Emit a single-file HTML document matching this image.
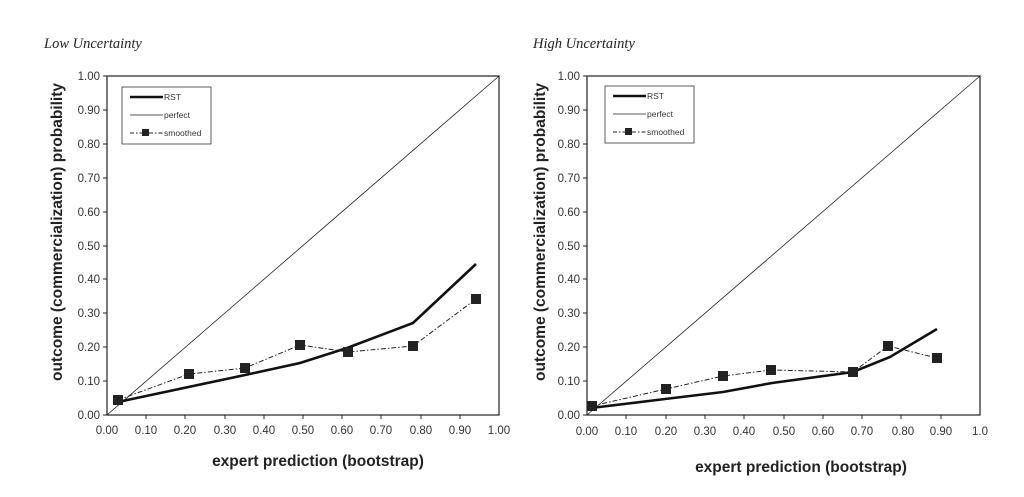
<!DOCTYPE html>
<html><head><meta charset="utf-8"><style>
html,body{margin:0;padding:0;background:#fff;}
svg{display:block;}
text{font-family:"Liberation Sans",Arial,sans-serif;fill:#333;}
.t{font-size:11.5px;}
.ti{font-family:"Liberation Serif",serif;font-style:italic;font-size:14.5px;fill:#222;}
.ax{font-weight:bold;font-size:15.5px;fill:#222;}
.lg{font-size:8.5px;}
</style></head><body>
<svg width="1024" height="497" viewBox="0 0 1024 497">
<text class="ti" x="44" y="48">Low Uncertainty</text>
<text class="ti" x="533" y="48">High Uncertainty</text>

<!-- LEFT -->
<g>
<rect x="107" y="76" width="392" height="339" fill="none" stroke="#222" stroke-width="1.2"/>
<g stroke="#222" stroke-width="1">
<line x1="103" y1="76" x2="107" y2="76"/><line x1="103" y1="110" x2="107" y2="110"/><line x1="103" y1="144" x2="107" y2="144"/><line x1="103" y1="178" x2="107" y2="178"/><line x1="103" y1="212" x2="107" y2="212"/><line x1="103" y1="246" x2="107" y2="246"/><line x1="103" y1="279" x2="107" y2="279"/><line x1="103" y1="313" x2="107" y2="313"/><line x1="103" y1="347" x2="107" y2="347"/><line x1="103" y1="381" x2="107" y2="381"/><line x1="103" y1="415" x2="107" y2="415"/>
<line x1="146" y1="415" x2="146" y2="419"/><line x1="185" y1="415" x2="185" y2="419"/><line x1="225" y1="415" x2="225" y2="419"/><line x1="264" y1="415" x2="264" y2="419"/><line x1="303" y1="415" x2="303" y2="419"/><line x1="342" y1="415" x2="342" y2="419"/><line x1="381" y1="415" x2="381" y2="419"/><line x1="421" y1="415" x2="421" y2="419"/><line x1="460" y1="415" x2="460" y2="419"/>
</g>
<g class="t" text-anchor="end">
<text x="100" y="80">1.00</text><text x="100" y="114">0.90</text><text x="100" y="148">0.80</text><text x="100" y="182">0.70</text><text x="100" y="216">0.60</text><text x="100" y="250">0.50</text><text x="100" y="283">0.40</text><text x="100" y="317">0.30</text><text x="100" y="351">0.20</text><text x="100" y="385">0.10</text><text x="100" y="419">0.00</text>
</g>
<g class="t" text-anchor="middle">
<text x="107" y="434">0.00</text><text x="146" y="434">0.10</text><text x="185" y="434">0.20</text><text x="225" y="434">0.30</text><text x="264" y="434">0.40</text><text x="303" y="434">0.50</text><text x="342" y="434">0.60</text><text x="381" y="434">0.70</text><text x="421" y="434">0.80</text><text x="460" y="434">0.90</text><text x="499" y="434">1.00</text>
</g>
<text class="ax" text-anchor="middle" transform="translate(62,232) rotate(-90)">outcome (commercialization) probability</text>
<text class="ax" text-anchor="middle" x="318" y="466">expert prediction (bootstrap)</text>
<line x1="107" y1="415" x2="499" y2="76" stroke="#222" stroke-width="0.8"/>
<polyline points="118,402 245,375 300,363 347,348 413,323 476,264" fill="none" stroke="#111" stroke-width="2.6"/>
<polyline points="118,400 189,374 245,368 300,345 348,352 413,346 476,299" fill="none" stroke="#222" stroke-width="1" stroke-dasharray="5,2,1.5,2"/>
<g fill="#222"><rect x="113" y="395" width="10" height="10"/><rect x="184" y="369" width="10" height="10"/><rect x="240" y="363" width="10" height="10"/><rect x="295" y="340" width="10" height="10"/><rect x="343" y="347" width="10" height="10"/><rect x="408" y="341" width="10" height="10"/><rect x="471" y="294" width="10" height="10"/></g>
<rect x="122" y="87" width="89" height="57" fill="#fff" stroke="#333" stroke-width="0.8"/>
<line x1="130" y1="97" x2="163" y2="97" stroke="#111" stroke-width="2.6"/>
<line x1="130" y1="115" x2="163" y2="115" stroke="#222" stroke-width="0.8"/>
<line x1="130" y1="133" x2="163" y2="133" stroke="#222" stroke-width="1" stroke-dasharray="4,2,1.5,2"/>
<rect x="142" y="129" width="7" height="7" fill="#222"/>
<text class="lg" x="164" y="100">RST</text><text class="lg" x="164" y="118">perfect</text><text class="lg" x="164" y="136">smoothed</text>
</g>

<!-- RIGHT -->
<g>
<rect x="587" y="76" width="393" height="339" fill="none" stroke="#222" stroke-width="1.2"/>
<g stroke="#222" stroke-width="1">
<line x1="583" y1="76" x2="587" y2="76"/><line x1="583" y1="110" x2="587" y2="110"/><line x1="583" y1="144" x2="587" y2="144"/><line x1="583" y1="178" x2="587" y2="178"/><line x1="583" y1="212" x2="587" y2="212"/><line x1="583" y1="246" x2="587" y2="246"/><line x1="583" y1="279" x2="587" y2="279"/><line x1="583" y1="313" x2="587" y2="313"/><line x1="583" y1="347" x2="587" y2="347"/><line x1="583" y1="381" x2="587" y2="381"/><line x1="583" y1="415" x2="587" y2="415"/>
<line x1="626" y1="415" x2="626" y2="419"/><line x1="666" y1="415" x2="666" y2="419"/><line x1="705" y1="415" x2="705" y2="419"/><line x1="744" y1="415" x2="744" y2="419"/><line x1="784" y1="415" x2="784" y2="419"/><line x1="823" y1="415" x2="823" y2="419"/><line x1="862" y1="415" x2="862" y2="419"/><line x1="901" y1="415" x2="901" y2="419"/><line x1="941" y1="415" x2="941" y2="419"/>
</g>
<g class="t" text-anchor="end">
<text x="580" y="80">1.00</text><text x="580" y="114">0.90</text><text x="580" y="148">0.80</text><text x="580" y="182">0.70</text><text x="580" y="216">0.60</text><text x="580" y="250">0.50</text><text x="580" y="283">0.40</text><text x="580" y="317">0.30</text><text x="580" y="351">0.20</text><text x="580" y="385">0.10</text><text x="580" y="419">0.00</text>
</g>
<g class="t" text-anchor="middle">
<text x="587" y="435">0.00</text><text x="626" y="435">0.10</text><text x="666" y="435">0.20</text><text x="705" y="435">0.30</text><text x="744" y="435">0.40</text><text x="784" y="435">0.50</text><text x="823" y="435">0.60</text><text x="862" y="435">0.70</text><text x="903" y="435">0.80</text><text x="941" y="435">0.90</text><text x="980" y="435">1.0</text>
</g>
<text class="ax" text-anchor="middle" transform="translate(545,232) rotate(-90)">outcome (commercialization) probability</text>
<text class="ax" text-anchor="middle" x="801" y="472">expert prediction (bootstrap)</text>
<line x1="587" y1="415" x2="980" y2="76" stroke="#222" stroke-width="0.8"/>
<polyline points="591,408 665,399 723,392 772,383 853,372 890,357 937,329" fill="none" stroke="#111" stroke-width="2.6"/>
<polyline points="592,406 666,389 723,376 771,370 853,372 888,346 937,358" fill="none" stroke="#222" stroke-width="1" stroke-dasharray="5,2,1.5,2"/>
<g fill="#222"><rect x="587" y="401" width="10" height="10"/><rect x="661" y="384" width="10" height="10"/><rect x="718" y="371" width="10" height="10"/><rect x="766" y="365" width="10" height="10"/><rect x="848" y="367" width="10" height="10"/><rect x="883" y="341" width="10" height="10"/><rect x="932" y="353" width="10" height="10"/></g>
<rect x="605" y="86" width="89" height="57" fill="#fff" stroke="#333" stroke-width="0.8"/>
<line x1="613" y1="96" x2="646" y2="96" stroke="#111" stroke-width="2.6"/>
<line x1="613" y1="114" x2="646" y2="114" stroke="#222" stroke-width="0.8"/>
<line x1="613" y1="132" x2="646" y2="132" stroke="#222" stroke-width="1" stroke-dasharray="4,2,1.5,2"/>
<rect x="625" y="128" width="7" height="7" fill="#222"/>
<text class="lg" x="647" y="99">RST</text><text class="lg" x="647" y="117">perfect</text><text class="lg" x="647" y="135">smoothed</text>
</g>
</svg>
</body></html>
